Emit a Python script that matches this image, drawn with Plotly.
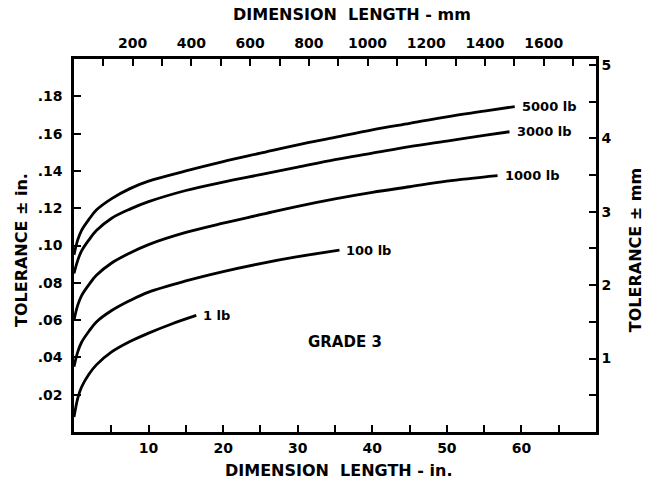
import plotly.graph_objects as go

# ---- data (inches) ----
x_5000 = [0, 0.5, 1, 2, 3, 5, 7.5, 10, 15, 20, 25, 30, 35, 40, 45, 50, 55, 59.1]
y_5000 = [0.095, 0.103, 0.108, 0.114, 0.119, 0.125, 0.1305, 0.1345, 0.140, 0.145, 0.1495, 0.154, 0.158, 0.162, 0.1655, 0.169, 0.172, 0.1745]

x_3000 = [0, 0.5, 1, 2, 3, 5, 7.5, 10, 15, 20, 25, 30, 35, 40, 45, 50, 55, 58.4]
y_3000 = [0.085, 0.092, 0.097, 0.103, 0.108, 0.1145, 0.1195, 0.1235, 0.1295, 0.134, 0.138, 0.142, 0.146, 0.1495, 0.153, 0.156, 0.159, 0.161]

x_1000 = [0, 0.5, 1, 2, 3, 5, 7.5, 10, 15, 20, 25, 30, 35, 40, 45, 50, 56.8]
y_1000 = [0.060, 0.068, 0.073, 0.079, 0.084, 0.0905, 0.096, 0.1005, 0.107, 0.112, 0.1165, 0.121, 0.125, 0.1285, 0.1315, 0.1345, 0.1375]

x_100 = [0, 0.5, 1, 2, 3, 5, 7.5, 10, 15, 20, 25, 30, 35.6]
y_100 = [0.035, 0.043, 0.048, 0.054, 0.059, 0.065, 0.0705, 0.075, 0.081, 0.086, 0.0903, 0.094, 0.0975]

x_1 = [0, 0.5, 1, 2, 3, 5, 7.5, 10, 13, 16.4]
y_1 = [0.008, 0.018, 0.024, 0.031, 0.036, 0.0428, 0.0485, 0.053, 0.0578, 0.0625]

series = [
    ("5000 lb", x_5000, y_5000),
    ("3000 lb", x_3000, y_3000),
    ("1000 lb", x_1000, y_1000),
    ("100 lb", x_100, y_100),
    ("1 lb", x_1, y_1),
]

# axis ticks
x_in_ticks = [5, 10, 15, 20, 25, 30, 35, 40, 45, 50, 55, 60, 65]
x_in_labels = ["", "10", "", "20", "", "30", "", "40", "", "50", "", "60", ""]
x_mm_ticks = [100, 200, 300, 400, 500, 600, 700, 800, 900, 1000, 1100, 1200, 1300, 1400, 1500, 1600, 1700]
x_mm_labels = ["", "200", "", "400", "", "600", "", "800", "", "1000", "", "1200", "", "1400", "", "1600", ""]
y_in_ticks = [0.02, 0.04, 0.06, 0.08, 0.10, 0.12, 0.14, 0.16, 0.18]
y_in_labels = [".02", ".04", ".06", ".08", ".10", ".12", ".14", ".16", ".18"]
y_mm_ticks = [0.5, 1, 1.5, 2, 2.5, 3, 3.5, 4, 4.5, 5]
y_mm_labels = ["", "1", "", "2", "", "3", "", "4", "", "5"]

X_MAX_IN = 70
Y_MAX_IN = 0.2
MM = 25.4

FONT = "DejaVu Sans"
fig = go.Figure()

for name, xs, ys in series:
    fig.add_trace(go.Scatter(
        x=xs, y=ys, mode="lines", name=name,
        line=dict(color="black", width=2.8, shape="spline", smoothing=1.0),
        showlegend=False, hoverinfo="skip",
    ))
    fig.add_annotation(
        x=xs[-1], y=ys[-1], text=name, showarrow=False,
        xanchor="left", yanchor="middle", xshift=5,
        font=dict(family=FONT, size=13, color="black", weight="bold"),
    )

# invisible trace on secondary axes so they render
fig.add_trace(go.Scatter(x=[0, X_MAX_IN * MM], y=[0, Y_MAX_IN * MM], xaxis="x2", yaxis="y2",
                         mode="markers", marker=dict(opacity=0), showlegend=False, hoverinfo="skip"))

fig.add_annotation(x=36.3, y=0.0483, text="GRADE 3", showarrow=False,
                   xanchor="center", yanchor="middle",
                   font=dict(family=FONT, size=15, color="black", weight="bold"))

tickfont = dict(family=FONT, size=14, color="black", weight="bold")
axis_common = dict(showgrid=False, zeroline=False, showline=True, linecolor="black",
                   linewidth=2.5, ticks="inside", tickcolor="black", tickwidth=2,
                   tickfont=tickfont, tickmode="array")

fig.update_layout(
    width=650, height=489,
    margin=dict(l=74, r=54, t=59, b=57),
    paper_bgcolor="white", plot_bgcolor="white",
    xaxis=dict(range=[0, X_MAX_IN], tickvals=x_in_ticks, ticktext=x_in_labels,
               ticklen=7, ticklabelstandoff=1, **axis_common),
    yaxis=dict(range=[0, Y_MAX_IN], tickvals=y_in_ticks, ticktext=y_in_labels,
               ticklen=7, ticklabelstandoff=6, **axis_common),
    xaxis2=dict(range=[0, X_MAX_IN * MM], overlaying="x", side="top", anchor="y",
                tickvals=x_mm_ticks, ticktext=x_mm_labels, ticklen=7, ticklabelstandoff=3,
                **axis_common),
    yaxis2=dict(range=[0, Y_MAX_IN * MM], overlaying="y", side="right", anchor="x",
                tickvals=y_mm_ticks, ticktext=y_mm_labels, ticklen=7, ticklabelstandoff=0,
                **axis_common),
)

titlefont = dict(family=FONT, size=16, color="black", weight="bold")
fig.add_annotation(xref="paper", yref="paper", x=0.533, y=1.118, text="DIMENSION  LENGTH - mm",
                   showarrow=False, xanchor="center", yanchor="middle", font=titlefont)
fig.add_annotation(xref="paper", yref="paper", x=0.508, y=-0.102, text="DIMENSION  LENGTH - in.",
                   showarrow=False, xanchor="center", yanchor="middle", font=titlefont)
fig.add_annotation(xref="paper", yref="paper", x=-0.0996, y=0.488, text="TOLERANCE ± in.",
                   showarrow=False, xanchor="center", yanchor="middle", textangle=-90, font=titlefont)
fig.add_annotation(xref="paper", yref="paper", x=1.077, y=0.488, text="TOLERANCE ± mm",
                   showarrow=False, xanchor="center", yanchor="middle", textangle=-90, font=titlefont)

fig.write_html("out.html", config={"displayModeBar": False},
               post_script="document.body.style.margin='0';")
